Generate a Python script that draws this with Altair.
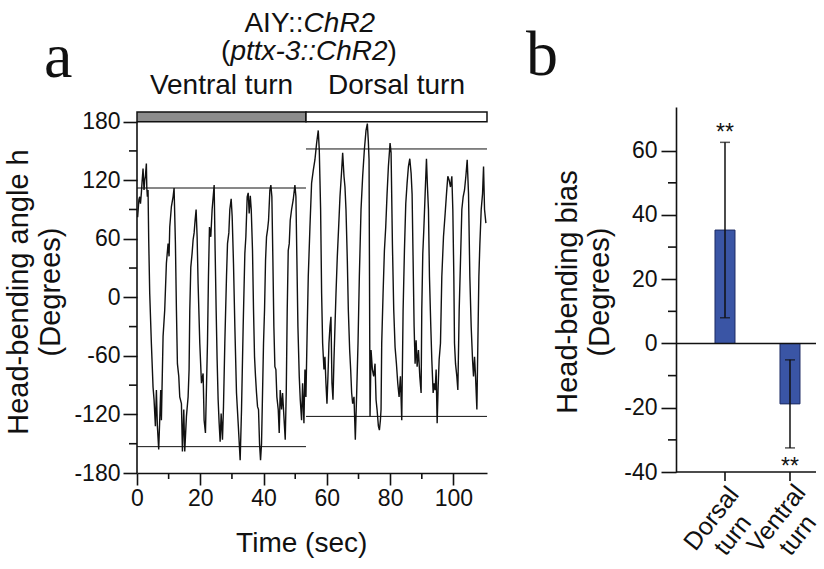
import altair as alt
import pandas as pd

# ---------------- panel a : head-bending trace ----------------
time_s = [
    0.2, 0.6, 0.85, 1.1, 1.38, 1.6, 1.91, 2.22, 2.45, 2.65, 2.96, 3.1, 3.28, 3.49, 3.7, 4.02,
    4.54, 5.07, 5.39, 5.81, 6.13, 6.44, 6.86, 7.29, 7.5, 7.71, 8.24, 8.76, 9.29, 9.82, 10.13,
    10.35, 10.87, 11.4, 11.72, 12.14, 12.46, 12.77, 13.2, 13.51, 14.04, 14.35, 14.78, 15.09,
    15.62, 16.15, 16.46, 16.68, 17.0, 17.41, 17.73, 18.05, 18.36, 18.68, 19.0, 19.31, 19.84,
    20.37, 20.89, 21.21, 21.63, 21.95, 22.27, 22.58, 22.9, 23.32, 23.74, 24.38, 24.69, 25.01,
    25.32, 25.64, 25.96, 26.27, 26.59, 27.01, 27.33, 27.75, 28.28, 28.6, 29.02, 29.33, 29.76,
    30.07, 30.49, 30.92, 31.44, 31.97, 32.6, 33.03, 33.55, 34.08, 34.4, 34.82, 35.14, 35.45,
    35.8, 36.1, 36.5, 36.82, 37.14, 37.45, 37.77, 38.09, 38.4, 38.72, 39.04, 39.35, 39.67,
    39.98, 40.3, 40.62, 40.93, 41.25, 41.57, 41.99, 42.3, 42.62, 42.94, 43.25, 43.57, 43.89,
    44.2, 44.63, 44.94, 45.26, 45.68, 46.0, 46.42, 46.84, 47.16, 47.47, 47.79, 48.11, 48.42,
    48.85, 49.37, 49.9, 50.22, 50.53, 50.85, 51.27, 51.59, 52.01, 52.33, 52.75, 53.07, 53.38,
    53.8, 54.12, 54.65, 55.17, 55.7, 56.23, 56.76, 57.28, 57.6, 58.02, 58.34, 58.66, 59.08,
    59.39, 59.71, 60.03, 60.34, 60.66, 60.98, 61.29, 61.61, 61.93, 62.24, 62.56, 62.88, 63.3,
    63.72, 64.14, 64.67, 64.99, 65.41, 65.72, 66.04, 66.46, 66.78, 67.2, 67.52, 67.83, 68.15,
    68.57, 68.99, 69.42, 69.84, 70.26, 70.79, 71.31, 71.84, 72.37, 72.79, 73.1, 73.33, 73.64,
    73.96, 74.38, 74.8, 75.22, 75.54, 75.86, 76.28, 76.6, 76.91, 77.12, 77.33, 77.76, 78.18,
    78.6, 79.02, 79.44, 79.97, 80.29, 80.71, 81.13, 81.55, 81.98, 82.4, 82.82, 83.24, 83.66,
    84.09, 84.51, 84.93, 85.35, 85.77, 86.2, 86.62, 86.93, 87.25, 87.57, 87.88, 88.2, 88.52,
    88.94, 89.36, 89.78, 89.99, 90.31, 90.63, 91.05, 91.47, 91.79, 92.1, 92.42, 92.84, 93.16,
    93.58, 93.9, 94.21, 94.53, 94.85, 95.16, 95.48, 95.9, 96.32, 96.85, 97.38, 97.8, 98.22,
    98.64, 99.06, 99.49, 99.8, 100.12, 100.33, 100.65, 101.07, 101.39, 101.81, 102.23, 102.65,
    103.07, 103.5, 103.92, 104.34, 104.76, 105.18, 105.6, 106.03, 106.34, 106.66, 106.98,
    107.4, 107.71, 108.03, 108.35, 108.77, 109.19, 109.51, 109.82, 110.25,
]
angle_deg = [
    82, 100, 103, 96, 107, 118, 132, 110, 120, 124, 137, 112, 103, 110, 59, 4,
    -47, -92, -105, -132, -95, -132, -156, -115, -95, -126, -40, -13, 35, 55, 42,
    72, 93, 103, 112, 55, -13, -68, -81, -102, -109, -158, -115, -158,
    -122, -102, -74, -13, 31, 45, 59, 66, 79, 90, 62, 14, -47,
    -88, -78, -126, -139, -92, -47, 21, 72, 62, 90, 115, 48, -13,
    -64, -105, -129, -148, -119, -146, -112, -47, 21, 55, 66, 90, 101,
    83, 35, -30, -98, -129, -167, -115, -30, 45, 62, 103, 107, 86,
    104, 90, 48, -13, -61, -81, -98, -112, -115, -150, -167, -150, -98,
    -47, -13, 38, 62, 69, 79, 110, 115, 103, 38, -30, -71, -74,
    -102, -115, -139, -95, -115, -98, -122, -146, -98, -13, 48, 55, 79,
    90, 100, 115, 103, 38, -30, -81, -105, -126, -88, -129, -74, -102,
    -30, 21, 72, 117, 130, 141, 158, 171, 151, 90, 4, -47, -74,
    -61, -88, -109, -81, -47, -30, -20, -88, -105, -64, -30, 4, 42,
    72, 103, 130, 148, 124, 113, 90, 38, -13, -54, -74, -98, -109,
    -102, -146, -98, -47, 21, 90, 124, 151, 171, 178, 160, 141, -122,
    -54, -74, -81, -68, -105, -115, -132, -136, -126, -115, -47, 4, 48,
    72, 106, 134, 158, 148, 55, -13, -51, -68, -88, -102, -81, -126,
    -13, 48, 96, 117, 134, 142, 127, 106, 38, -30, -68, -44, -71,
    -54, -81, -98, -13, 45, 69, 106, 142, 113, 90, 21, -30, -64,
    -98, -88, -95, -74, -129, -92, -64, -47, 21, 62, 86, 106, 124,
    120, 113, 124, 90, 21, -47, -68, -81, -95, -13, 38, 90,
    103, 110, 124, 141, 106, 21, -30, -64, -81, -61, -81,
    -115, -47, 21, 55, 90, 106, 134, 90, 76,
]

epoch_names = ["Ventral turn", "Dorsal turn"]
epoch_start = [0.0, 53.4]
epoch_end = [53.4, 110.6]
epoch_fill = ["#8c8c8c", "#ffffff"]
epoch_upper = [112, 152]
epoch_lower = [-153, -122]

x_ticks_a = [0, 20, 40, 60, 80, 100]
x_minor_a = [10, 30, 50, 70, 90]
y_ticks_a = [-180, -120, -60, 0, 60, 120, 180]
y_minor_a = [-150, -90, -30, 30, 90, 150]

# ---------------- panel b : head-bending bias ----------------
turn_types = ["Dorsal turn", "Ventral turn"]
bias_mean = [35.3, -18.8]
bias_err = [27.3, 13.7]
signif = ["**", "**"]

y_ticks_b = [-40, -20, 0, 20, 40, 60]
y_minor_b = [-30, -10, 10, 30, 50]

FONT = "Liberation Sans"
INK = "#111111"
W_A, H_A = 350, 366
W_B, H_B = 140, 365
AXW = 1.6
PLAIN = "'' + datum.value"


def label(text, x, y, size, style="normal", align="center", angle=0, font=FONT):
    return alt.Chart(pd.DataFrame({"s": [text]})).mark_text(
        text=text, fontSize=size, fontStyle=style, align=align,
        baseline="alphabetic", font=font, color=INK, angle=angle,
    ).encode(x=alt.value(x), y=alt.value(y))


# ---- panel a ----
trace = pd.DataFrame({"t": time_s, "h": angle_deg})
epochs = pd.DataFrame({
    "name": epoch_names, "start": epoch_start, "end": epoch_end,
    "fill": epoch_fill, "up": epoch_upper, "lo": epoch_lower,
})
epochs["mid"] = (epochs["start"] + epochs["end"]) / 2

xs = alt.Scale(domain=[0, 110.6], nice=False, zero=False)
ys = alt.Scale(domain=[-180, 195], nice=False, zero=False)
AX_AX = alt.Axis(values=x_ticks_a, tickSize=12, labelPadding=2, title=None, labelFlush=False,
                 labelExpr=PLAIN)
AX_AY = alt.Axis(values=y_ticks_a, tickSize=14, labelPadding=3, title=None, domain=False,
                 labelFlush=False, labelExpr=PLAIN)


def XA(field):
    return alt.X(field, scale=xs, axis=AX_AX)


def YA(field):
    return alt.Y(field, scale=ys, axis=AX_AY)


line = alt.Chart(trace).mark_line(color=INK, strokeWidth=1.4).encode(
    x=XA("t:Q"), y=YA("h:Q"))
epoch_bar = alt.Chart(epochs).mark_rect(stroke=INK, strokeWidth=1.5).encode(
    x=XA("start:Q"), x2="end:Q",
    y=alt.YDatum(180, scale=ys, axis=AX_AY), y2=alt.datum(190),
    fill=alt.Fill("fill:N", scale=None),
)
upper_rule = alt.Chart(epochs).mark_rule(color=INK, strokeWidth=1).encode(
    x=XA("start:Q"), x2="end:Q", y=YA("up:Q"))
lower_rule = alt.Chart(epochs).mark_rule(color=INK, strokeWidth=1).encode(
    x=XA("start:Q"), x2="end:Q", y=YA("lo:Q"))
y_axis_line = alt.Chart(pd.DataFrame({"a": [0]})).mark_rule(color=INK, strokeWidth=AXW).encode(
    x=alt.value(0), y=alt.YDatum(-180, scale=ys, axis=AX_AY), y2=alt.datum(180))
y_minor = alt.Chart(pd.DataFrame({"v": y_minor_a})).mark_rule(color=INK, strokeWidth=AXW).encode(
    y=YA("v:Q"), x=alt.value(-8), x2=alt.value(0))
x_minor = alt.Chart(pd.DataFrame({"v": x_minor_a})).mark_rule(color=INK, strokeWidth=AXW).encode(
    x=XA("v:Q"), y=alt.value(H_A), y2=alt.value(H_A + 6))
epoch_text = alt.Chart(epochs).mark_text(fontSize=28, font=FONT, color=INK, baseline="alphabetic").encode(
    x=XA("mid:Q"), y=alt.value(-12.7), text="name:N")

left = alt.layer(
    line, epoch_bar, upper_rule, lower_rule, y_axis_line, y_minor, x_minor, epoch_text,
    label("AIY::", 166.6, -74.7, 28, align="right"),
    label("ChR2", 166.6, -74.7, 28, style="italic", align="left"),
    label("(", 93.4, -47.5, 28, align="right"),
    label("pttx-3::ChR2", 93.4, -47.5, 28, style="italic", align="left"),
    label(")", 250.6, -47.5, 28, align="left"),
    label("a", -93, -30, 64, align="left", font="Liberation Serif"),
    label("Time (sec)", 164.7, 445, 28),
    label("Head-bending angle h", -109, 185, 29, angle=270),
    label("(Degrees)", -77, 185, 29, angle=270),
).properties(width=W_A, height=H_A)

# ---- panel b ----
bdf = pd.DataFrame({"turn": turn_types, "mean": bias_mean, "err": bias_err, "sig": signif})
bdf["lo"] = bdf["mean"] - bdf["err"]
bdf["hi"] = bdf["mean"] + bdf["err"]
bdf["lab"] = bdf["turn"].str.replace(" ", "\n")
caps = pd.DataFrame({"turn": turn_types * 2, "v": list(bdf["lo"]) + list(bdf["hi"])})

bxs = alt.Scale(domain=turn_types, paddingInner=0.6923, paddingOuter=0.4231, align=0.709)
bys = alt.Scale(domain=[-40, 73.6], nice=False, zero=False)
AX_BY = alt.Axis(values=y_ticks_b, tickSize=15, labelPadding=4, title=None, labelFlush=False,
                 labelExpr=PLAIN)


def XB(field):
    return alt.X(field, scale=bxs, axis=None, sort=turn_types)


def YB(field):
    return alt.Y(field, scale=bys, axis=AX_BY)


bars = alt.Chart(bdf).mark_bar(size=20, fill="#3a55a5", stroke="#1d2b63", strokeWidth=1).encode(
    x=XB("turn:N"), y=YB("mean:Q"), y2=alt.datum(0))
err_rule = alt.Chart(bdf).mark_rule(color=INK, strokeWidth=1.5).encode(
    x=XB("turn:N"), y=YB("lo:Q"), y2="hi:Q")
err_caps = alt.Chart(caps).mark_tick(orient="horizontal", size=10, thickness=1.5, color=INK).encode(
    x=XB("turn:N"), y=YB("v:Q"))
zero_rule = alt.Chart(pd.DataFrame({"a": [0]})).mark_rule(color=INK, strokeWidth=AXW).encode(
    y=alt.YDatum(0, scale=bys, axis=AX_BY))
x_axis_b = alt.Chart(pd.DataFrame({"a": [0]})).mark_rule(color=INK, strokeWidth=AXW).encode(
    y=alt.YDatum(-40, scale=bys, axis=AX_BY), x=alt.value(0), x2=alt.value(W_B))
x_ticks_b = alt.Chart(bdf).mark_rule(color=INK, strokeWidth=AXW).encode(
    x=XB("turn:N"), y=alt.value(H_B), y2=alt.value(H_B + 9))
y_minor_bb = alt.Chart(pd.DataFrame({"v": y_minor_b})).mark_rule(color=INK, strokeWidth=AXW).encode(
    y=YB("v:Q"), x=alt.value(-8), x2=alt.value(0))
star_up = alt.Chart(bdf).transform_filter("datum.mean > 0").mark_text(
    fontSize=23, font=FONT, color=INK, baseline="alphabetic", dy=-2).encode(
    x=XB("turn:N"), y=YB("hi:Q"), text="sig:N")
star_dn = alt.Chart(bdf).transform_filter("datum.mean < 0").mark_text(
    fontSize=23, font=FONT, color=INK, baseline="alphabetic", dy=26).encode(
    x=XB("turn:N"), y=YB("lo:Q"), text="sig:N")
cat_text = alt.Chart(bdf).mark_text(
    fontSize=25, font=FONT, color=INK, angle=308, align="center", baseline="middle",
    lineBreak="\n", dx=-4, dy=-14).encode(
    x=XB("turn:N"), y=alt.value(H_B + 52), text="lab:N")

right = alt.layer(
    bars, err_rule, err_caps, zero_rule, x_axis_b, x_ticks_b, y_minor_bb, star_up, star_dn,
    cat_text,
    label("Head-bending bias", -99, 185, 29, angle=270),
    label("(Degrees)", -67, 185, 29, angle=270),
    label("b", -150, -32, 64, align="left", font="Liberation Serif"),
).properties(width=W_B, height=H_B)

chart = alt.hconcat(left, right, spacing=189, bounds="flush").properties(
    padding={"left": 137, "top": 107, "right": 687, "bottom": 462},
    autosize=alt.AutoSizeParams(type="none"),
).configure_view(strokeWidth=0).configure_axis(
    labelFont=FONT, labelFontSize=23, labelColor=INK,
    domainColor=INK, tickColor=INK, domainWidth=AXW, tickWidth=AXW, grid=False,
)

chart.save("out.html", embed_options={"renderer": "svg", "actions": False})
